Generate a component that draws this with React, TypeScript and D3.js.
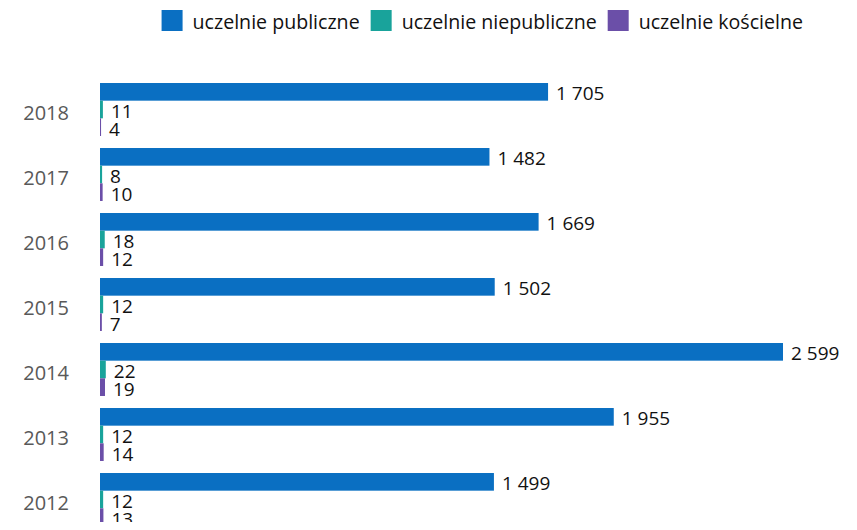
import * as d3 from 'd3'
import { useEffect, useRef } from 'react'

const years = ['2018', '2017', '2016', '2015', '2014', '2013', '2012']
const publiczne = [1705, 1482, 1669, 1502, 2599, 1955, 1499]
const niepubliczne = [11, 8, 18, 12, 22, 12, 12]
const koscielne = [4, 10, 12, 7, 19, 14, 13]
const seriesNames = ['uczelnie publiczne', 'uczelnie niepubliczne', 'uczelnie kościelne']
const seriesColors = ['#0a6fc2', '#19a39b', '#6b4fa8']

const W = 857
const H = 530
const FONT = "'Open Sans', sans-serif"

export default function App() {
    const svgRef = useRef(null) as any

    useEffect(() => {
        const svg = d3.select(svgRef.current)
        svg.selectAll('*').remove()

        const rows = years.map((y, i) => ({
            year: y,
            values: [publiczne[i], niepubliczne[i], koscielne[i]]
        }))

        const fmt = d3.formatLocale({
            decimal: ',', thousands: ' ', grouping: [3], currency: ['', ' zł']
        }).format(',d')

        const xScale = d3.scaleLinear()
            .domain([0, 2599])
            .range([100, 783])

        const yScale = d3.scaleBand()
            .domain(years)
            .range([77, 532])
            .paddingInner(0.185)
            .paddingOuter(0.0925)

        const subScale = d3.scaleBand()
            .domain(seriesNames)
            .range([0, yScale.bandwidth()])

        // year labels
        svg.append('g')
            .selectAll('text')
            .data(rows)
            .join('text')
            .attr('x', 69)
            .attr('y', d => (yScale(d.year) as number) + yScale.bandwidth() / 2 + 3)
            .attr('text-anchor', 'end')
            .attr('dominant-baseline', 'central')
            .attr('fill', '#595959')
            .style('font-family', FONT)
            .style('font-size', '20px')
            .text(d => d.year)

        const groups = svg.append('g')
            .selectAll('g')
            .data(rows)
            .join('g')
            .attr('transform', d => `translate(0,${yScale(d.year)})`)

        groups.selectAll('rect')
            .data(d => d.values.map((v, k) => ({ v, k })))
            .join('rect')
            .attr('x', xScale(0))
            .attr('y', d => subScale(seriesNames[d.k]) as number)
            .attr('width', d => xScale(d.v) - xScale(0))
            .attr('height', subScale.bandwidth())
            .attr('fill', d => seriesColors[d.k])

        groups.selectAll('text')
            .data(d => d.values.map((v, k) => ({ v, k })))
            .join('text')
            .attr('x', d => xScale(d.v) + 8)
            .attr('y', d => (subScale(seriesNames[d.k]) as number) + subScale.bandwidth() / 2 + 1.5)
            .attr('dominant-baseline', 'central')
            .attr('fill', '#111')
            .style('font-family', FONT)
            .style('font-size', '19px')
            .text(d => fmt(d.v))

        // legend, laid out left to right then right-aligned
        const legend = svg.append('g')
        const items = legend.selectAll('g')
            .data(seriesNames)
            .join('g')
        items.append('rect')
            .attr('width', 21)
            .attr('height', 21)
            .attr('y', 10)
            .attr('fill', (d, i) => seriesColors[i])
        items.append('text')
            .attr('x', 31)
            .attr('y', 21)
            .attr('dominant-baseline', 'central')
            .attr('fill', '#111')
            .style('font-family', FONT)
            .style('font-size', '19.6px')
            .text(d => d)

        let cx = 0
        items.each(function () {
            const g = d3.select(this as any)
            g.attr('transform', `translate(${cx},0)`)
            const tw = (g.select('text').node() as any).getComputedTextLength()
            cx += 31 + tw + 11
        })
        legend.attr('transform', `translate(${803 - (cx - 11)},0)`)
    }, [])

    return (
        <div>
            <svg ref={svgRef} width={W} height={H} style={{ display: 'block', margin: '-8px' }} />
        </div>
    )
}
